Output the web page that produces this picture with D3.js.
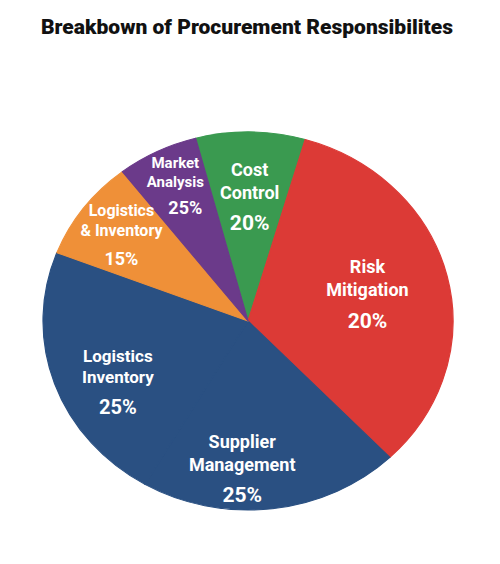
<!DOCTYPE html>
<html>
<head>
<meta charset="utf-8">
<script src="https://cdn.jsdelivr.net/npm/d3@7"></script>
<style>
  body { margin: 0; background: #ffffff; }
  text { font-family: Roboto, "Noto Sans", sans-serif; font-weight: 700; }
</style>
</head>
<body>
<div id="plot"></div>
<script>
// chart data
const titleText = "Breakbown of Procurement Responsibilites";
const categories = ["Cost Control", "Risk Mitigation", "Supplier Management", "Logistics Inventory", "Logistics & Inventory", "Market Analysis"];
const nameLines = [["Cost", "Control"], ["Risk", "Mitigation"], ["Supplier", "Management"], ["Logistics", "Inventory"], ["Logistics", "& Inventory"], ["Market", "Analysis"]];
const percentLabels = ["20%", "20%", "25%", "25%", "15%", "25%"];
// drawn slice sizes (degrees) - they don't follow the printed percentages
const sliceValues = [31, 120, 74, 81, 31, 23];
const sliceColors = ["#3a9a50", "#dc3a36", "#2a5082", "#2a5082", "#ef9038", "#6b3a8a"];

const width = 500, height = 564;
const cx = 248, cy = 321, radius = 205, squash = 0.922;

const svg = d3.select("#plot").append("svg")
  .attr("width", width)
  .attr("height", height);

// title
svg.append("text")
  .attr("x", 247)
  .attr("y", 34)
  .attr("text-anchor", "middle")
  .style("font-size", "20px")
  .style("font-weight", 900)
  .attr("fill", "#111")
  .attr("textLength", 412)
  .attr("lengthAdjust", "spacingAndGlyphs")
  .text(titleText);

const data = categories.map((c, i) => ({ name: c, value: sliceValues[i], color: sliceColors[i], lines: nameLines[i], pct: percentLabels[i] }));

const startDeg = -14.8;
const pie = d3.pie()
  .sort(null)
  .value(d => d.value)
  .startAngle(startDeg * Math.PI / 180)
  .endAngle((startDeg + 360) * Math.PI / 180);

const arcs = pie(data);
const arc = d3.arc().innerRadius(0).outerRadius(radius);

// the pie in the picture is a little flatter than round
const g = svg.append("g")
  .attr("transform", `translate(${cx},${cy}) scale(1,${squash})`);

g.selectAll("path")
  .data(arcs)
  .enter()
  .append("path")
  .attr("d", arc)
  .attr("fill", d => d.data.color)
  .attr("stroke", d => d.data.color)
  .attr("stroke-width", 1.2)
  .attr("stroke-linejoin", "round");

// label placement: t = position across the slice, r = fraction of radius, sizes in px
const labelLayout = {
  "Cost Control": { t: 0.5, r: 0.66, name: 18, pct: 21 },
  "Risk Mitigation": { t: 0.5, r: 0.60, name: 18, pct: 21 },
  "Supplier Management": { t: 0.62, r: 0.78, name: 18, pct: 21 },
  "Logistics Inventory": { t: 0.41, r: 0.71, name: 17, pct: 20 },
  "Logistics & Inventory": { t: 0.5, r: 0.77, name: 16, pct: 18 },
  "Market Analysis": { t: 0.5, r: 0.80, name: 15, pct: 18, pctDx: 10 }
};

const labels = svg.append("g");

arcs.forEach(d => {
  const lay = labelLayout[d.data.name];
  const a = d.startAngle + (d.endAngle - d.startAngle) * lay.t;
  const x = cx + Math.sin(a) * radius * lay.r;
  const y = cy - Math.cos(a) * radius * lay.r * squash;

  const lineGap = lay.name * 1.28;
  const pctGap = lay.name * 1.72;
  const span = lineGap + pctGap;
  const top = y - span / 2;

  d.data.lines.forEach((line, i) => {
    labels.append("text")
      .attr("x", x)
      .attr("y", top + i * lineGap)
      .attr("text-anchor", "middle")
      .attr("dominant-baseline", "central")
      .attr("fill", "#ffffff")
      .style("font-size", lay.name + "px")
      .text(line);
  });

  labels.append("text")
    .attr("x", x + (lay.pctDx || 0))
    .attr("y", top + span)
    .attr("text-anchor", "middle")
    .attr("dominant-baseline", "central")
    .attr("fill", "#ffffff")
    .style("font-size", lay.pct + "px")
    .text(d.data.pct);
});
</script>
</body>
</html>
